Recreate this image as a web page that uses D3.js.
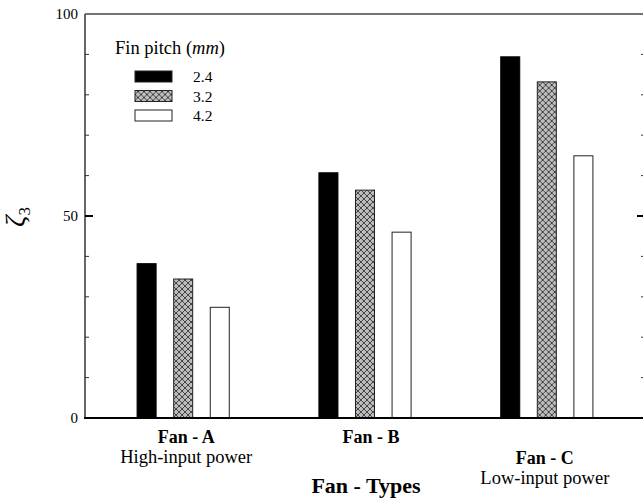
<!DOCTYPE html>
<meta charset="utf-8">
<title>Fan types</title>
<style>
  body { margin: 0; background: #fff; }
  text { font-family: "Liberation Serif", "Times New Roman", serif; fill: #000; }
</style>
<svg width="643" height="499"></svg>
<script src="https://d3js.org/d3.v7.min.js"></script>
<script>

  var fans = ["Fan - A", "Fan - B", "Fan - C"],
      fanNotes = ["High-input power", "", "Low-input power"],
      pitches = ["2.4", "3.2", "4.2"];

  // zeta_3, one array per fin pitch
  var pitch24 = [38.2, 60.7, 89.4],
      pitch32 = [34.4, 56.4, 83.2],
      pitch42 = [27.4, 46.0, 64.9];

  var yTicks = [0, 50, 100],
      yMinor = [10, 20, 30, 40, 60, 70, 80, 90];

  var series = [pitch24, pitch32, pitch42];

  var svg = d3.select("svg"),
      plotL = 85, plotR = 645, plotT = 14, plotB = 418;

  var defs = svg.append("defs");
  var pat = defs.append("pattern")
      .attr("id", "weave")
      .attr("patternUnits", "userSpaceOnUse")
      .attr("width", 6).attr("height", 6);
  pat.append("rect").attr("width", 6).attr("height", 6).attr("fill", "#bdbdbd");
  pat.append("path")
      .attr("d", "M0,4 L3,1 L6,4 M0,4 L2,6 M6,4 L4,6 M3,1 L1,-1 M3,1 L5,-1")
      .attr("fill", "none")
      .attr("stroke", "#333")
      .attr("stroke-width", 0.9);

  var fills = ["#000", "url(#weave)", "#fff"];

  var x0 = d3.scaleBand()
      .domain(fans)
      .range([plotL, plotR])
      .paddingInner(0.493)
      .paddingOuter(0.2865);

  var x1 = d3.scaleBand()
      .domain(pitches)
      .range([0, x0.bandwidth()])
      .paddingInner(0.48)
      .paddingOuter(0);

  var y = d3.scaleLinear().domain([0, 100]).range([plotB, plotT]);

  // frame
  svg.append("line")
      .attr("x1", plotL).attr("x2", plotR)
      .attr("y1", plotT).attr("y2", plotT)
      .attr("stroke", "#444").attr("stroke-width", 1.5);
  svg.append("line")
      .attr("x1", plotL).attr("x2", plotL)
      .attr("y1", plotT).attr("y2", plotB)
      .attr("stroke", "#555").attr("stroke-width", 1.8);
  svg.append("line")
      .attr("x1", plotR).attr("x2", plotR)
      .attr("y1", plotT).attr("y2", plotB)
      .attr("stroke", "#555").attr("stroke-width", 1.8);

  // ticks, both sides pointing in
  [plotL, plotR].forEach(function(xx, side) {
    var dir = side === 0 ? 1 : -1;
    svg.append("g").selectAll("line")
        .data(yMinor)
        .enter().append("line")
        .attr("x1", xx).attr("x2", xx + dir * 4)
        .attr("y1", function(d) { return y(d); })
        .attr("y2", function(d) { return y(d); })
        .attr("stroke", "#333").attr("stroke-width", 1);
    svg.append("line")
        .attr("x1", xx).attr("x2", xx + dir * 8)
        .attr("y1", y(50)).attr("y2", y(50))
        .attr("stroke", "#000").attr("stroke-width", 2);
  });

  svg.append("g").selectAll("text")
      .data(yTicks)
      .enter().append("text")
      .attr("x", plotL - 7)
      .attr("y", function(d) { return y(d); })
      .attr("dy", "0.35em")
      .attr("text-anchor", "end")
      .style("font-size", "15px")
      .text(function(d) { return d; });

  // bars
  var groups = svg.append("g").selectAll("g")
      .data(fans)
      .enter().append("g")
      .attr("transform", function(d) { return "translate(" + x0(d) + ",0)"; });

  groups.selectAll("rect")
      .data(function(d, i) {
        return series.map(function(s, k) { return { key: pitches[k], k: k, v: s[i] }; });
      })
      .enter().append("rect")
      .attr("x", function(d) { return x1(d.key); })
      .attr("y", function(d) { return y(d.v); })
      .attr("width", x1.bandwidth())
      .attr("height", function(d) { return plotB - y(d.v); })
      .attr("fill", function(d) { return fills[d.k]; })
      .attr("stroke", function(d) { return d.k === 0 ? "#000" : "#222"; })
      .attr("stroke-width", 1);

  // baseline
  svg.append("line")
      .attr("x1", plotL - 1).attr("x2", plotR)
      .attr("y1", plotB).attr("y2", plotB)
      .attr("stroke", "#000").attr("stroke-width", 2.2);

  // category labels
  var drop = [0, 0, 21],
      nudge = [3, 6, -2];
  svg.append("g").selectAll("text")
      .data(fans)
      .enter().append("text")
      .attr("x", function(d, i) { return x0(d) + x0.bandwidth() / 2 + nudge[i]; })
      .attr("y", function(d, i) { return 443 + drop[i]; })
      .attr("text-anchor", "middle")
      .style("font-size", "18px")
      .style("font-weight", "bold")
      .text(function(d) { return d; });

  svg.append("g").selectAll("text")
      .data(fans)
      .enter().append("text")
      .attr("x", function(d, i) { return x0(d) + x0.bandwidth() / 2 + nudge[i]; })
      .attr("y", function(d, i) { return 463 + drop[i]; })
      .attr("text-anchor", "middle")
      .style("font-size", "18.5px")
      .text(function(d, i) { return fanNotes[i]; });

  svg.append("text")
      .attr("x", 366).attr("y", 493)
      .attr("text-anchor", "middle")
      .style("font-size", "22px")
      .style("font-weight", "bold")
      .text("Fan - Types");

  // y title: zeta sub 3
  var yl = svg.append("text")
      .attr("transform", "translate(24,217) rotate(-90)")
      .attr("text-anchor", "middle")
      .style("font-size", "28px");
  yl.append("tspan").style("font-style", "italic").text("ζ");
  yl.append("tspan").attr("dy", 6).style("font-size", "17px").text("3");

  // legend
  var lt = svg.append("text")
      .attr("x", 115).attr("y", 54)
      .style("font-size", "18.5px");
  lt.append("tspan").text("Fin pitch (");
  lt.append("tspan").style("font-style", "italic").text("mm");
  lt.append("tspan").text(")");

  var leg = svg.append("g").selectAll("g")
      .data(pitches)
      .enter().append("g")
      .attr("transform", function(d, i) { return "translate(135," + (71 + i * 19.5) + ")"; });
  leg.append("rect")
      .attr("width", 37).attr("height", 11)
      .attr("fill", function(d, i) { return fills[i]; })
      .attr("stroke", "#222").attr("stroke-width", 1);
  leg.append("text")
      .attr("x", 58).attr("y", 6)
      .attr("dy", "0.35em")
      .style("font-size", "15.5px")
      .text(function(d) { return d; });

</script>
